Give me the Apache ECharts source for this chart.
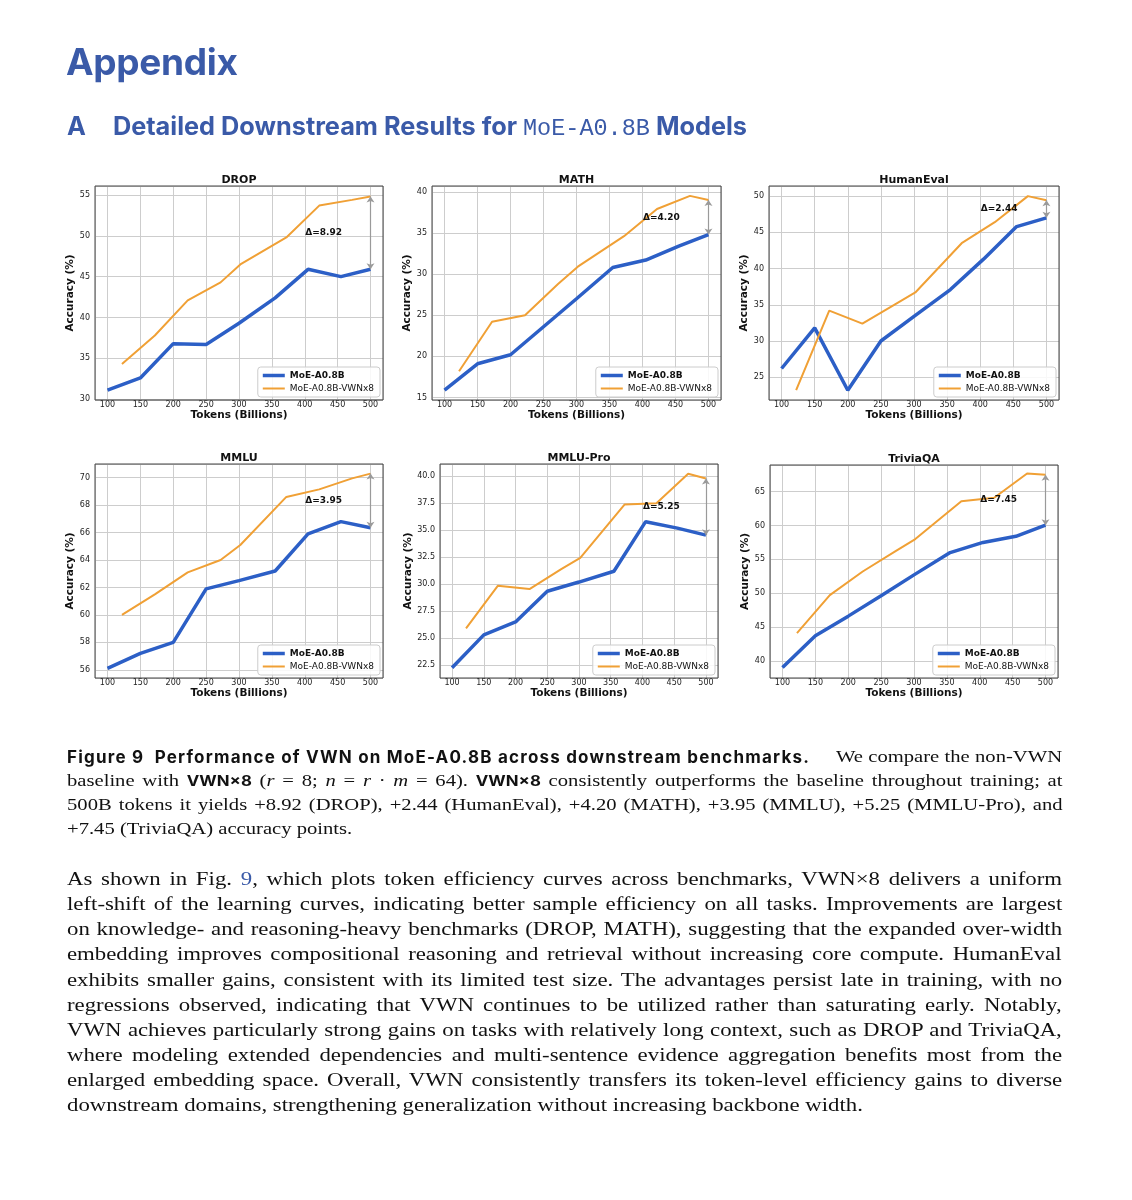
<!DOCTYPE html>
<html><head><meta charset="utf-8">
<script src="https://cdn.jsdelivr.net/npm/echarts@6/dist/echarts.min.js"></script>
<style>
body{margin:0;background:#fff;}
#page{position:relative;width:1132px;height:1200px;overflow:hidden;background:#fff;}
#chart{position:absolute;left:0;top:0;width:1132px;height:1200px;}
.t{position:absolute;white-space:nowrap;color:#111;}
.h1{left:66px;top:39px;font:700 37px Inter, sans-serif;color:#3a5aa8;line-height:46px;letter-spacing:-0.3px;}
.h2{left:67px;top:111px;font:700 25.3px Inter, sans-serif;color:#3a5aa8;line-height:30px;}
.h2 .mono{font:400 23.5px "Liberation Mono", monospace;}
.capb{font:700 17px Inter, sans-serif;line-height:24px;color:#111;}
.j{position:absolute;white-space:nowrap;transform-origin:0 0;transform:scaleX(1.2);color:#111;}
.cap{font:17.2px "Liberation Serif", serif;line-height:24px;height:24px;}
.cap b{font-family:Inter, sans-serif;font-weight:700;font-size:14px;word-spacing:0;}
.par{font:19px "Liberation Serif", serif;line-height:25.2px;height:25.2px;}
.lnk{color:#3a5aa8;}
</style></head>
<body><div id="page">
<div id="chart"></div>
<div class="t h1">Appendix</div>
<div class="t h2">A<span style="display:inline-block;width:27px"></span>Detailed Downstream Results for <span class="mono">MoE-A0.8B</span> Models</div>

<div class="t capb" id="cap1a" data-w="743" style="left:67px;top:745px">Figure 9&nbsp; Performance of VWN on MoE-A0.8B across downstream benchmarks.</div>
<div class="j cap" data-w="226" style="left:836px;top:745px">We compare the non-VWN</div>
<div class="j cap" data-w="995" style="left:67px;top:769px">baseline with <b>VWN×8</b> (<i>r</i> = 8; <i>n</i> = <i>r</i> · <i>m</i> = 64). <b>VWN×8</b> consistently outperforms the baseline throughout training; at</div>
<div class="j cap" data-w="995" style="left:67px;top:793px">500B tokens it yields +8.92 (DROP), +2.44 (HumanEval), +4.20 (MATH), +3.95 (MMLU), +5.25 (MMLU-Pro), and</div>
<div class="j cap" style="left:67px;top:817px">+7.45 (TriviaQA) accuracy points.</div>

<div class="j par" data-w="995" style="left:67px;top:866px">As shown in Fig. <span class="lnk">9</span>, which plots token efficiency curves across benchmarks, VWN×8 delivers a uniform</div>
<div class="j par" data-w="995" style="left:67px;top:891px">left-shift of the learning curves, indicating better sample efficiency on all tasks. Improvements are largest</div>
<div class="j par" data-w="995" style="left:67px;top:916px">on knowledge- and reasoning-heavy benchmarks (DROP, MATH), suggesting that the expanded over-width</div>
<div class="j par" data-w="995" style="left:67px;top:941px">embedding improves compositional reasoning and retrieval without increasing core compute. HumanEval</div>
<div class="j par" data-w="995" style="left:67px;top:967px">exhibits smaller gains, consistent with its limited test size. The advantages persist late in training, with no</div>
<div class="j par" data-w="995" style="left:67px;top:992px">regressions observed, indicating that VWN continues to be utilized rather than saturating early. Notably,</div>
<div class="j par" data-w="995" style="left:67px;top:1017px">VWN achieves particularly strong gains on tasks with relatively long context, such as DROP and TriviaQA,</div>
<div class="j par" data-w="995" style="left:67px;top:1042px">where modeling extended dependencies and multi-sentence evidence aggregation benefits most from the</div>
<div class="j par" data-w="995" style="left:67px;top:1067px">enlarged embedding space. Overall, VWN consistently transfers its token-level efficiency gains to diverse</div>
<div class="j par" style="left:67px;top:1092px">downstream domains, strengthening generalization without increasing backbone width.</div>
</div>
<script>
// ---- data ----
const xBase = [100, 150, 200, 250, 300, 355, 405, 455, 500];
const xVWN  = [122, 172, 222, 272, 302, 372, 422, 472, 500];
const titles = ['DROP', 'MATH', 'HumanEval', 'MMLU', 'MMLU-Pro', 'TriviaQA'];
const dropBase   = [31.1, 32.6, 36.8, 36.7, 39.3, 42.4, 45.9, 45.0, 45.9];
const dropVWN    = [34.3, 37.8, 42.1, 44.3, 46.5, 49.8, 53.7, 54.4, 54.82];
const mathBase   = [15.9, 19.1, 20.2, 23.6, 27.0, 30.8, 31.7, 33.4, 34.8];
const mathVWN    = [18.2, 24.2, 25.0, 28.8, 30.9, 34.6, 37.9, 39.5, 39.0];
const humanBase  = [26.2, 31.8, 23.2, 30.0, 33.4, 37.1, 41.3, 45.8, 47.0];
const humanVWN   = [23.2, 34.2, 32.4, 35.1, 36.7, 43.5, 46.4, 50.0, 49.44];
const mmluBase   = [56.1, 57.2, 58.0, 61.9, 62.5, 63.2, 65.9, 66.8, 66.35];
const mmluVWN    = [60.0, 61.5, 63.1, 64.0, 65.1, 68.6, 69.15, 69.95, 70.3];
const proBase    = [22.25, 25.3, 26.5, 29.35, 30.2, 31.2, 35.8, 35.2, 34.55];
const proVWN     = [25.9, 29.85, 29.55, 31.4, 32.45, 37.4, 37.5, 40.25, 39.8];
const triviaBase = [39.0, 43.7, 46.6, 49.6, 52.7, 56.0, 57.5, 58.4, 60.05];
const triviaVWN  = [44.1, 49.7, 53.2, 56.2, 58.0, 63.6, 64.1, 67.7, 67.5];
const deltaLabels = ['Δ=8.92', 'Δ=4.20', 'Δ=2.44', 'Δ=3.95', 'Δ=5.25', 'Δ=7.45'];
const seriesNames = ['MoE-A0.8B', 'MoE-A0.8B-VWNx8'];
const xName = 'Tokens (Billions)', yName = 'Accuracy (%)';

const baseSets = [dropBase, mathBase, humanBase, mmluBase, proBase, triviaBase];
const vwnSets  = [dropVWN, mathVWN, humanVWN, mmluVWN, proVWN, triviaVWN];

// ---- layout ----
const layout = [
  {left: 95,  top: 186, width: 288, height: 214, ymin: 29.9,  ymax: 56.1,  step: 5,   dec: 0},
  {left: 432, top: 186, width: 289, height: 214, ymin: 14.7,  ymax: 40.7,  step: 5,   dec: 0},
  {left: 769, top: 186, width: 290, height: 214, ymin: 21.85, ymax: 51.4,  step: 5,   dec: 0},
  {left: 95,  top: 464, width: 288, height: 214, ymin: 55.4,  ymax: 71.0,  step: 2,   dec: 0},
  {left: 440, top: 464, width: 278, height: 214, ymin: 21.3,  ymax: 41.15, step: 2.5, dec: 1},
  {left: 770, top: 465, width: 288, height: 213, ymin: 37.45, ymax: 68.95, step: 5,   dec: 0}
];
const BLUE = '#2c5fc6', ORANGE = '#f0a035';
const FONT = '"DejaVu Sans", sans-serif';
const W = 1132, H = 1200;

function fmt(step, dec) {
  return v => Math.abs(v / step - Math.round(v / step)) < 1e-6 ? v.toFixed(dec) : '';
}

const grid = [], xAxis = [], yAxis = [], series = [], legend = [], graphic = [];
layout.forEach((l, i) => {
  grid.push({left: l.left, top: l.top, width: l.width, height: l.height, show: true,
    borderColor: '#444', borderWidth: 1, backgroundColor: 'transparent', z: 10});
  xAxis.push({gridIndex: i, type: 'value', min: 81, max: 519, minInterval: 50, maxInterval: 50,
    name: xName, nameLocation: 'middle', nameGap: 10,
    nameTextStyle: {fontFamily: FONT, fontWeight: 'bold', fontSize: 10.5, color: '#111'},
    axisLine: {show: false}, axisTick: {show: false},
    axisLabel: {margin: 1, fontFamily: FONT, fontSize: 8, color: '#222', formatter: fmt(50, 0)},
    splitLine: {show: true, lineStyle: {color: '#cdcdcd', width: 1}}});
  yAxis.push({gridIndex: i, type: 'value', min: l.ymin, max: l.ymax, minInterval: l.step, maxInterval: l.step,
    name: yName, nameLocation: 'middle', nameGap: 12, nameRotate: 90,
    nameTextStyle: {fontFamily: FONT, fontWeight: 'bold', fontSize: 10.5, color: '#111'},
    axisLine: {show: false}, axisTick: {show: false},
    axisLabel: {margin: 5, fontFamily: FONT, fontSize: 8, color: '#222', formatter: fmt(l.step, l.dec)},
    splitLine: {show: true, lineStyle: {color: '#cdcdcd', width: 1}}});
  const b = baseSets[i], v = vwnSets[i];
  const bEnd = b[b.length - 1], vEnd = v[v.length - 1];
  series.push({type: 'line', name: seriesNames[0], xAxisIndex: i, yAxisIndex: i,
    data: xBase.map((x, k) => [x, b[k]]), symbol: 'none', z: 2,
    lineStyle: {width: 3.5, color: BLUE}, itemStyle: {color: BLUE}, emphasis: {disabled: true}});
  series.push({type: 'line', name: seriesNames[1], xAxisIndex: i, yAxisIndex: i,
    data: xVWN.map((x, k) => [x, v[k]]), symbol: 'none', z: 3,
    lineStyle: {width: 2, color: ORANGE}, itemStyle: {color: ORANGE}, emphasis: {disabled: true},
    markLine: {silent: true, symbol: ['arrow', 'arrow'], symbolSize: 6, animation: false,
      lineStyle: {color: '#9a9a9a', width: 1.2, type: 'solid'}, label: {show: false},
      emphasis: {disabled: true},
      data: [[{coord: [xBase[xBase.length - 1], bEnd]}, {coord: [xBase[xBase.length - 1], vEnd]}]]},
    markPoint: {silent: true, animation: false,
      data: [{coord: [400, (bEnd + vEnd) / 2], symbol: 'rect', symbolSize: 1,
        itemStyle: {color: 'rgba(0,0,0,0)'},
        label: {show: true, position: 'right', distance: 0, formatter: deltaLabels[i],
          fontFamily: FONT, fontWeight: 'bold', fontSize: 9, color: '#111'}}]}});
  legend.push({orient: 'vertical', right: W - (l.left + l.width) + 3, bottom: H - (l.top + l.height) + 3,
    selectedMode: false, itemWidth: 22, itemHeight: 8, itemGap: 4, padding: [4, 6, 4, 5],
    backgroundColor: 'rgba(255,255,255,0.85)', borderColor: '#cccccc', borderWidth: 1, borderRadius: 3,
    textStyle: {fontFamily: FONT, fontSize: 9, color: '#111'},
    data: [{name: seriesNames[0], icon: 'path://M0 0H22V3.5H0Z', itemStyle: {color: BLUE},
            textStyle: {fontWeight: 'bold'}},
           {name: seriesNames[1], icon: 'path://M0 0H22V2H0Z', itemStyle: {color: ORANGE}}]});
  graphic.push({type: 'text', x: l.left + l.width / 2, y: l.top - 6, silent: true,
    style: {text: titles[i], textAlign: 'center', textVerticalAlign: 'middle', verticalAlign: 'middle',
      fontFamily: FONT, fontWeight: 'bold', fontSize: 11, fill: '#111'}});
});

const chart = echarts.init(document.getElementById('chart'), null, {renderer: 'canvas'});
chart.setOption({animation: false, backgroundColor: 'transparent',
  grid, xAxis, yAxis, series, legend, graphic});

// ---- text line justification ----
function countSpaces(node) {
  let n = 0;
  node.childNodes.forEach(c => {
    if (c.nodeType === 3) n += (c.nodeValue.match(/ /g) || []).length;
    else if (c.nodeType === 1 && c.tagName !== 'B') n += countSpaces(c);
  });
  return n;
}
function layoutText() {
  const capb = document.getElementById('cap1a');
  capb.style.letterSpacing = '0px';
  const w0 = capb.offsetWidth;
  const nc = capb.textContent.length;
  capb.style.letterSpacing = ((+capb.dataset.w - w0) / nc) + 'px';
  document.querySelectorAll('.j').forEach(el => {
    if (!el.dataset.w) return;
    const sx = 1.2;
    el.style.wordSpacing = '0px';
    const w = el.offsetWidth;
    const n = countSpaces(el);
    if (n > 0) el.style.wordSpacing = ((+el.dataset.w / sx - w) / n) + 'px';
  });
}
layoutText();
if (document.fonts && document.fonts.ready) document.fonts.ready.then(layoutText);
</script>
</body></html>
